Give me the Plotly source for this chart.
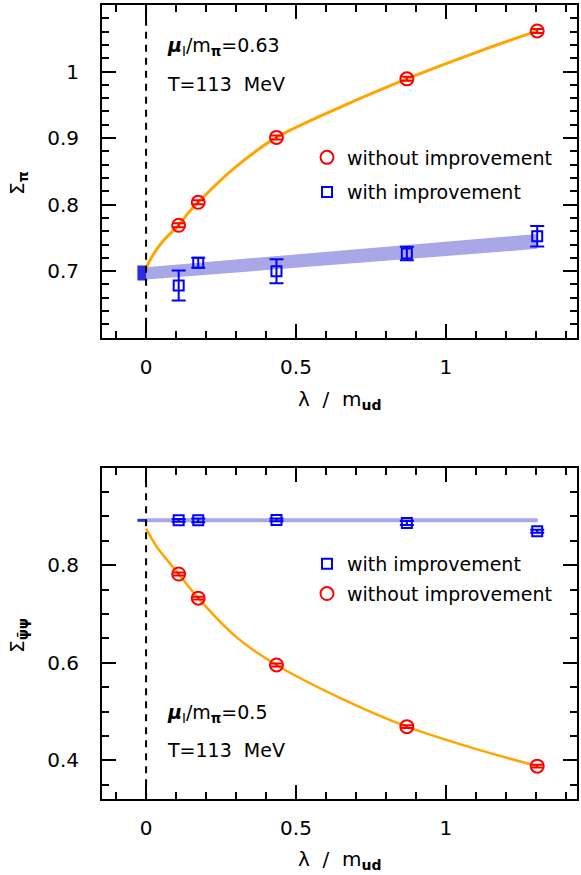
import plotly.graph_objects as go

# ---------------- data ----------------
lam = [0.1087, 0.1739, 0.4348, 0.8696, 1.3043]

# top panel (Sigma_pi)
top_without = [0.769, 0.8035, 0.901, 0.989, 1.061]
top_without_err = [0.003, 0.003, 0.003, 0.003, 0.003]
top_with = [0.6785, 0.7125, 0.700, 0.7265, 0.7525]
top_with_err = [0.0225, 0.0075, 0.018, 0.010, 0.0155]

top_band_x = [0.0, 1.3043]
top_band_lo = [0.6875, 0.7335]
top_band_hi = [0.706, 0.756]
top_lim_x = [-0.029, 0.0]
top_lim_lo = [0.686, 0.686]
top_lim_hi = [0.7085, 0.7085]

top_fit_x = [0.0, 0.024, 0.058, 0.1087, 0.136, 0.1739, 0.3, 0.4348, 0.65, 0.8696, 1.09, 1.3043]
top_fit_y = [0.705, 0.725, 0.746, 0.769, 0.785, 0.8035, 0.857, 0.901, 0.947, 0.989, 1.027, 1.061]

# bottom panel (Sigma_psibar psi)
bot_without = [0.782, 0.7325, 0.5955, 0.469, 0.388]
bot_without_err = [0.003, 0.003, 0.003, 0.003, 0.003]
bot_with = [0.892, 0.892, 0.893, 0.8865, 0.8695]
bot_with_err = [0.003, 0.004, 0.003, 0.004, 0.003]

bot_line_x = [0.0, 1.306]
bot_line_y = [0.892, 0.892]
bot_lim_x = [-0.029, 0.0]
bot_lim_y = [0.892, 0.892]

bot_fit_x = [0.0, 0.036, 0.1087, 0.1739, 0.302, 0.4348, 0.65, 0.8696, 1.09, 1.3043]
bot_fit_y = [0.875, 0.8375, 0.782, 0.7325, 0.652, 0.5955, 0.527, 0.469, 0.425, 0.388]

x_ticks = [0, 0.5, 1]
x_ticktext = ["0", "0.5", "1"]
top_yticks = [0.7, 0.8, 0.9, 1.0]
top_yticktext = ["0.7", "0.8", "0.9", "1"]
bot_yticks = [0.4, 0.6, 0.8]
bot_yticktext = ["0.4", "0.6", "0.8"]

# ---------------- styling ----------------
W, H = 581, 875
FONT = "DejaVu Sans"
RED = "#ff0000"
BLUE = "#0000ff"
ORANGE = "#ffa500"
LIGHTBLUE = "rgb(168,168,232)"
DARKBLUE = "rgb(45,45,230)"


def px(xp):
    return xp / W


def py(yp):
    return 1 - yp / H


fig = go.Figure()

# ---- top panel ----
fig.add_trace(go.Scatter(x=top_band_x, y=top_band_lo, mode="lines", line=dict(width=0),
                         showlegend=False, hoverinfo="skip", xaxis="x", yaxis="y"))
fig.add_trace(go.Scatter(x=top_band_x, y=top_band_hi, mode="lines", line=dict(width=0),
                         fill="tonexty", fillcolor=LIGHTBLUE, showlegend=False,
                         hoverinfo="skip", xaxis="x", yaxis="y"))
fig.add_trace(go.Scatter(x=top_lim_x, y=top_lim_lo, mode="lines", line=dict(width=0),
                         showlegend=False, hoverinfo="skip", xaxis="x", yaxis="y"))
fig.add_trace(go.Scatter(x=top_lim_x, y=top_lim_hi, mode="lines", line=dict(width=0),
                         fill="tonexty", fillcolor=DARKBLUE, showlegend=False,
                         hoverinfo="skip", xaxis="x", yaxis="y"))
fig.add_trace(go.Scatter(x=top_fit_x, y=top_fit_y, mode="lines",
                         line=dict(color=ORANGE, width=3, shape="spline", smoothing=0.8),
                         showlegend=False, hoverinfo="skip", xaxis="x", yaxis="y"))
fig.add_trace(go.Scatter(x=lam, y=top_without, mode="markers", name="without improvement",
                         marker=dict(symbol="circle-open", size=13, color=RED, line=dict(width=2, color=RED)),
                         error_y=dict(type="data", array=top_without_err, color=RED, thickness=2, width=6),
                         legend="legend", legendgroup="a", xaxis="x", yaxis="y"))
fig.add_trace(go.Scatter(x=lam, y=top_with, mode="markers", name="with improvement",
                         marker=dict(symbol="square-open", size=10, color=BLUE, line=dict(width=2, color=BLUE)),
                         error_y=dict(type="data", array=top_with_err, color=BLUE, thickness=2, width=7),
                         legend="legend", legendgroup="b", xaxis="x", yaxis="y"))

# ---- bottom panel ----
fig.add_trace(go.Scatter(x=bot_line_x, y=bot_line_y, mode="lines",
                         line=dict(color=LIGHTBLUE, width=4),
                         showlegend=False, hoverinfo="skip", xaxis="x2", yaxis="y2"))
fig.add_trace(go.Scatter(x=bot_lim_x, y=bot_lim_y, mode="lines",
                         line=dict(color=DARKBLUE, width=3),
                         showlegend=False, hoverinfo="skip", xaxis="x2", yaxis="y2"))
fig.add_trace(go.Scatter(x=bot_fit_x, y=bot_fit_y, mode="lines",
                         line=dict(color=ORANGE, width=2.5, shape="spline", smoothing=0.8),
                         showlegend=False, hoverinfo="skip", xaxis="x2", yaxis="y2"))
fig.add_trace(go.Scatter(x=lam, y=bot_with, mode="markers", name="with improvement",
                         marker=dict(symbol="square-open", size=10, color=BLUE, line=dict(width=2, color=BLUE)),
                         error_y=dict(type="data", array=bot_with_err, color=BLUE, thickness=2, width=7),
                         legend="legend2", legendgroup="c", xaxis="x2", yaxis="y2"))
fig.add_trace(go.Scatter(x=lam, y=bot_without, mode="markers", name="without improvement",
                         marker=dict(symbol="circle-open", size=13, color=RED, line=dict(width=2, color=RED)),
                         error_y=dict(type="data", array=bot_without_err, color=RED, thickness=2, width=6),
                         legend="legend2", legendgroup="d", xaxis="x2", yaxis="y2"))

# ---- axes ----
xdom = [px(102), px(577)]
xr = [-0.147, 1.437]
common_axis = dict(showline=True, linecolor="black", linewidth=2, mirror="allticks",
                   ticks="inside", ticklen=14, tickwidth=2, tickcolor="black",
                   showgrid=False, zeroline=False,
                   tickfont=dict(family=FONT, size=20, color="black"))

xaxis_cfg = dict(common_axis, range=xr, domain=xdom, tickmode="array", tickvals=x_ticks,
                 ticktext=x_ticktext, ticklabelstandoff=10,
                 minor=dict(tickmode="linear", tick0=0, dtick=0.1, ticklen=7, tickwidth=2,
                            tickcolor="black", ticks="inside", showgrid=False))

fig.update_layout(
    width=W, height=H,
    margin=dict(l=0, r=0, t=0, b=0),
    paper_bgcolor="white", plot_bgcolor="white",
    font=dict(family=FONT, color="black"),
    xaxis=dict(xaxis_cfg, anchor="y"),
    yaxis=dict(common_axis, range=[0.6, 1.1], domain=[py(337.7), py(5)], anchor="x",
               tickmode="array", tickvals=top_yticks, ticktext=top_yticktext, ticklabelstandoff=17,
               minor=dict(tickmode="linear", tick0=0, dtick=0.02, ticklen=7, tickwidth=2,
                          tickcolor="black", ticks="inside", showgrid=False)),
    xaxis2=dict(xaxis_cfg, anchor="y2"),
    yaxis2=dict(common_axis, range=[0.32, 1.0], domain=[py(799.3), py(467.7)], anchor="x2",
                tickmode="array", tickvals=bot_yticks, ticktext=bot_yticktext, ticklabelstandoff=17,
                minor=dict(tickmode="linear", tick0=0, dtick=0.05, ticklen=7, tickwidth=2,
                           tickcolor="black", ticks="inside", showgrid=False)),
    legend=dict(x=px(307), y=py(138.5), xanchor="left", yanchor="top",
                bgcolor="rgba(0,0,0,0)", borderwidth=0, tracegroupgap=7,
                font=dict(family=FONT, size=19, color="black"), itemsizing="trace"),
    legend2=dict(x=px(307), y=py(545), xanchor="left", yanchor="top",
                 bgcolor="rgba(0,0,0,0)", borderwidth=0, tracegroupgap=2,
                 font=dict(family=FONT, size=19, color="black"), itemsizing="trace"),
)

# dashed vertical lines at lambda = 0
for xa, ya in (("x", "y"), ("x2", "y2")):
    fig.add_shape(type="line", xref=xa, yref=ya + " domain", x0=0, x1=0, y0=0, y1=1,
                  line=dict(color="black", width=2, dash="7px,6px"), layer="above")

# text annotations
ann_font = dict(family=FONT, size=19, color="black")
anns = [
    (165, 46.5, "<b><i>μ</i></b><sub>I</sub>/m<sub><b>π</b></sub>=0.63"),
    (165, 84, "T=113\u00a0\u00a0MeV"),
    (165, 713, "<b><i>μ</i></b><sub>I</sub>/m<sub><b>π</b></sub>=0.5"),
    (165, 750, "T=113\u00a0\u00a0MeV"),
]
for xp_, yp_, txt in anns:
    fig.add_annotation(x=px(xp_), y=py(yp_), xref="paper", yref="paper", text=txt,
                       showarrow=False, xanchor="left", yanchor="middle", font=ann_font)

# axis titles
for yp_ in (400, 860):
    fig.add_annotation(x=px(340), y=py(yp_), xref="paper", yref="paper",
                       text="λ\u00a0\u00a0/\u00a0\u00a0m<sub><b>ud</b></sub>", showarrow=False,
                       xanchor="center", yanchor="middle",
                       font=dict(family=FONT, size=20, color="black"))
fig.add_annotation(x=px(18), y=py(183), xref="paper", yref="paper", text="Σ<sub><b>π</b></sub>",
                   showarrow=False, textangle=-90, xanchor="center", yanchor="middle",
                   font=dict(family=FONT, size=20, color="black"))
fig.add_annotation(x=px(18), y=py(636), xref="paper", yref="paper",
                   text="Σ<sub><b>ψ\u0304ψ</b></sub>",
                   showarrow=False, textangle=-90, xanchor="center", yanchor="middle",
                   font=dict(family=FONT, size=20, color="black"))

fig.write_html("out.html", config={"displayModeBar": False},
               post_script="document.body.style.margin='0';document.body.style.padding='0';")
